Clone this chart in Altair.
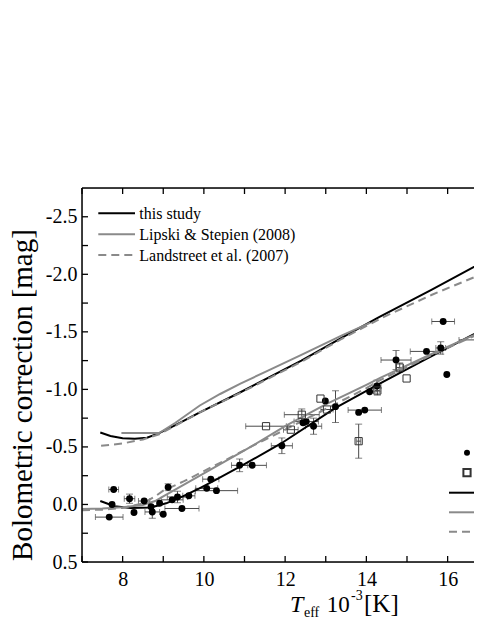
import altair as alt
import pandas as pd

# ---------------- data ----------------
# filled circles: Teff (10^3 K), BC (mag), x error, y error
dot_T    = [7.67, 7.78, 7.74, 8.17, 8.28, 8.53, 8.70, 8.73, 8.91, 9.00, 9.12, 9.22, 9.35, 9.46, 9.63,
            10.07, 10.17, 10.31, 10.88, 11.19, 11.92, 12.44, 12.52, 12.70, 12.99, 13.24, 13.81, 13.96,
            14.08, 14.26, 14.73, 15.48, 15.83, 15.98, 15.89, 16.78]
dot_BC   = [0.11, -0.13, 0.00, -0.05, 0.07, -0.03, 0.02, 0.065, -0.01, 0.085, -0.15, -0.04, -0.065, 0.035, -0.075,
            -0.14, -0.22, -0.12, -0.34, -0.34, -0.51, -0.71, -0.72, -0.68, -0.90, -0.85, -0.80, -0.82,
            -0.98, -1.03, -1.255, -1.33, -1.36, -1.13, -1.59, -1.43]
dot_xerr = [0.34, 0.12, 0.0, 0.13, 0.0, 0.14, 0.0, 0.18, 0.0, 0.0, 0.0, 0.27, 0.25, 0.42, 0.15,
            0.27, 0.2, 0.52, 0.2, 0.35, 0.26, 0.0, 0.3, 0.2, 0.0, 0.0, 0.0, 0.41,
            0.0, 0.1, 0.37, 0.4, 0.12, 0.0, 0.28, 0.5]
dot_yerr = [0.0, 0.0, 0.0, 0.04, 0.0, 0.0, 0.0, 0.055, 0.0, 0.0, 0.03, 0.0, 0.05, 0.0, 0.0,
            0.0, 0.0, 0.0, 0.055, 0.0, 0.068, 0.0, 0.0, 0.07, 0.0, 0.138, 0.0, 0.0,
            0.0, 0.05, 0.083, 0.0, 0.054, 0.0, 0.0, 0.0]

# open squares
sq_T    = [11.53, 12.14, 12.41, 12.87, 13.03, 13.81, 14.27, 14.82, 14.99]
sq_BC   = [-0.68, -0.65, -0.78, -0.92, -0.825, -0.55, -0.99, -1.19, -1.095]
sq_xerr = [0.5, 0.18, 0.43, 0.0, 0.15, 0.05, 0.06, 0.08, 0.0]
sq_yerr = [0.0, 0.0, 0.05, 0.0, 0.0, 0.148, 0.04, 0.04, 0.0]

# calibration curves (upper and lower branches)
this_up_T  = [7.45, 7.7, 8.0, 8.3, 8.6, 8.9, 9.3, 9.9, 10.9, 12.4, 13.4, 14.3, 15.6, 17.1, 17.3]
this_up_BC = [-0.625, -0.595, -0.575, -0.57, -0.58, -0.62, -0.69, -0.80, -0.975, -1.25, -1.45, -1.625, -1.865, -2.15, -2.185]
this_lo_T  = [7.45, 7.8, 8.2, 8.7, 9.07, 9.48, 9.89, 10.22, 10.9, 11.9, 13.24, 14.27, 15.5, 16.87, 17.3]
this_lo_BC = [-0.03, 0.015, 0.03, 0.027, -0.01, -0.07, -0.14, -0.2, -0.33, -0.53, -0.84, -1.04, -1.27, -1.52, -1.6]

lip_up_T  = [7.97, 8.9, 9.3, 9.9, 10.4, 10.9, 11.5, 12.4, 13.4, 14.1]
lip_up_BC = [-0.62, -0.62, -0.71, -0.86, -0.96, -1.05, -1.15, -1.30, -1.47, -1.58]
lip_lo_T  = [7.0, 7.5, 8.0, 8.5, 8.8, 9.0, 9.5, 10.0, 10.5, 11.15, 12.0, 13.0, 14.0, 14.34, 15.5, 16.5, 17.3]
lip_lo_BC = [0.04, 0.035, 0.025, 0.005, -0.03, -0.07, -0.17, -0.27, -0.37, -0.5, -0.68, -0.87, -1.04, -1.1, -1.29, -1.45, -1.565]

lan_up_T  = [7.47, 8.0, 8.5, 8.9, 9.3, 9.9, 10.9, 12.4, 13.0, 13.4, 14.4, 15.6, 17.1, 17.3]
lan_up_BC = [-0.51, -0.53, -0.565, -0.61, -0.685, -0.80, -0.97, -1.24, -1.36, -1.44, -1.625, -1.82, -2.04, -2.07]
lan_lo_T  = [7.0, 7.5, 8.0, 8.5, 8.8, 9.0, 9.5, 10.0, 10.5, 11.15, 12.0, 13.0, 14.0, 14.34, 15.5, 16.5, 17.3]
lan_lo_BC = [0.05, 0.045, 0.03, -0.01, -0.07, -0.12, -0.2, -0.29, -0.38, -0.5, -0.65, -0.83, -1.01, -1.08, -1.28, -1.44, -1.565]

# axis ticks (the picture is cut on the right of the x axis)
X_MIN = 7.0
W, H = 392, 374
X_MAX = X_MIN + W / 40.625
x_major = [8, 10, 12, 14, 16]
x_minor = [7, 9, 11, 13, 15]
y_major = [-2.5, -2.0, -1.5, -1.0, -0.5, 0.0, 0.5]
y_minor = [-2.25, -1.75, -1.25, -0.75, -0.25, 0.25]

legend_labels = ["this study", "Lipski & Stepien (2008)", "Landstreet et al. (2007)"]

# ---------------- tables ----------------
FONT = "Liberation Serif"

pts = pd.concat([
    pd.DataFrame({"T": dot_T, "BC": dot_BC, "xerr": dot_xerr, "yerr": dot_yerr, "kind": "dot"}),
    pd.DataFrame({"T": sq_T, "BC": sq_BC, "xerr": sq_xerr, "yerr": sq_yerr, "kind": "sq"}),
], ignore_index=True)
pts["xlo"] = pts["T"] - pts["xerr"]
pts["xhi"] = pts["T"] + pts["xerr"]
pts["ylo"] = pts["BC"] - pts["yerr"]
pts["yhi"] = pts["BC"] + pts["yerr"]

def curve(T, BC, part):
    return pd.DataFrame({"T": T, "BC": BC, "part": part})

this_df = pd.concat([curve(this_up_T, this_up_BC, "up"), curve(this_lo_T, this_lo_BC, "lo")])
lip_df = pd.concat([curve(lip_up_T, lip_up_BC, "up"), curve(lip_lo_T, lip_lo_BC, "lo")])
lan_df = pd.concat([curve(lan_up_T, lan_up_BC, "up"), curve(lan_lo_T, lan_lo_BC, "lo")])

xs = alt.Scale(domain=[X_MIN, X_MAX], nice=False, zero=False)
ys = alt.Scale(domain=[-2.75, 0.5], reverse=True, nice=False, zero=False)

x_axis = alt.Axis(values=x_major, ticks=False, domain=False, grid=False, title=None,
                  labelFont=FONT, labelFontSize=20, labelColor="black", labelPadding=7,
                  labelOverlap=False, labelFlush=False)
y_axis = alt.Axis(values=y_major, ticks=False, domain=False, grid=False, title=None,
                  labelFont=FONT, labelFontSize=20, labelColor="black", labelPadding=5,
                  labelOverlap=False, labelFlush=False,
                  labelExpr="datum.value < 0 ? '-' + format(-datum.value, '.1f') : format(datum.value, '.1f')")

def X(f):
    return alt.X(f, type="quantitative", scale=xs, axis=x_axis)

def Y(f):
    return alt.Y(f, type="quantitative", scale=ys, axis=y_axis)

ERR = "#4a4a4a"
base = alt.Chart(pts)

xerr_rule = base.transform_filter("datum.xerr > 0").mark_rule(color=ERR, strokeWidth=1, clip=True).encode(
    x=X("xlo"), x2="xhi", y=Y("BC"))
xerr_cap1 = base.transform_filter("datum.xerr > 0").mark_tick(color=ERR, thickness=1, size=6, orient="vertical", clip=True).encode(
    x=X("xlo"), y=Y("BC"))
xerr_cap2 = base.transform_filter("datum.xerr > 0").mark_tick(color=ERR, thickness=1, size=6, orient="vertical", clip=True).encode(
    x=X("xhi"), y=Y("BC"))
yerr_rule = base.transform_filter("datum.yerr > 0").mark_rule(color=ERR, strokeWidth=1, clip=True).encode(
    x=X("T"), y=Y("ylo"), y2="yhi")
yerr_cap1 = base.transform_filter("datum.yerr > 0").mark_tick(color=ERR, thickness=1, size=7, orient="horizontal", clip=True).encode(
    x=X("T"), y=Y("ylo"))
yerr_cap2 = base.transform_filter("datum.yerr > 0").mark_tick(color=ERR, thickness=1, size=7, orient="horizontal", clip=True).encode(
    x=X("T"), y=Y("yhi"))

this_line = alt.Chart(this_df).mark_line(color="black", strokeWidth=2, clip=True).encode(
    x=X("T"), y=Y("BC"), detail="part:N", order="T:Q")
lip_line = alt.Chart(lip_df).mark_line(color="#8a8a8a", strokeWidth=2, clip=True).encode(
    x=X("T"), y=Y("BC"), detail="part:N", order="T:Q")
lan_line = alt.Chart(lan_df).mark_line(color="#8a8a8a", strokeWidth=2, strokeDash=[8, 5], clip=True).encode(
    x=X("T"), y=Y("BC"), detail="part:N", order="T:Q")

dots = alt.Chart(pts).transform_filter("datum.kind == 'dot'").mark_point(
    shape="circle", filled=True, color="black", size=48, opacity=1, clip=True).encode(x=X("T"), y=Y("BC"))
squares = alt.Chart(pts).transform_filter("datum.kind == 'sq'").mark_point(
    shape="square", filled=False, color="#333333", size=52, strokeWidth=1, opacity=1, clip=True).encode(x=X("T"), y=Y("BC"))

# frame (left, top, bottom) and inward ticks
one = pd.DataFrame({"a": [0]})
FR = dict(color="black", strokeWidth=1.5)
frame = [
    alt.Chart(one).mark_rule(**FR).encode(x=alt.value(0), y=alt.value(0), y2=alt.value(H)),
    alt.Chart(one).mark_rule(**FR).encode(x=alt.value(0), x2=alt.value(W), y=alt.value(0)),
    alt.Chart(one).mark_rule(**FR).encode(x=alt.value(0), x2=alt.value(W), y=alt.value(H)),
]
xt = pd.DataFrame({"v": x_major + x_minor})
yt = pd.DataFrame({"v": y_major + y_minor})
TK = dict(color="black", strokeWidth=1.3)
bottom_ticks = alt.Chart(xt).mark_rule(**TK).encode(x=X("v"), y=alt.value(H), y2=alt.value(H - 6))
top_ticks = alt.Chart(xt).mark_rule(**TK).encode(x=X("v"), y=alt.value(0), y2=alt.value(6))
left_ticks = alt.Chart(yt).mark_rule(**TK).encode(y=Y("v"), x=alt.value(0), x2=alt.value(6))

# top-left legend
leg_y = [25.3, 46.3, 67.0]
leg_layers = []
for lab, yy, col, dash in zip(legend_labels, leg_y, ["black", "#8a8a8a", "#8a8a8a"], [None, None, [8, 5]]):
    kw = dict(color=col, strokeWidth=2)
    if dash:
        kw["strokeDash"] = dash
    leg_layers.append(alt.Chart(one).mark_rule(**kw).encode(
        x=alt.value(16.3), x2=alt.value(53), y=alt.value(yy)))
    leg_layers.append(alt.Chart(one).mark_text(
        text=lab, font=FONT, fontSize=16, color="black", align="left", baseline="middle").encode(
        x=alt.value(57.3), y=alt.value(yy + 1)))

# right-hand legend (only its symbols are inside the picture)
rl = []
rl.append(alt.Chart(one).mark_point(shape="circle", filled=True, color="black", size=36, opacity=1).encode(
    x=alt.value(385), y=alt.value(264.7)))
rl.append(alt.Chart(one).mark_point(shape="square", filled=False, color="#333333", size=52, opacity=1).encode(
    x=alt.value(385), y=alt.value(284.7)))
for yy, col, dash in zip([304.7, 324.3, 343.7], ["black", "#8a8a8a", "#8a8a8a"], [None, None, [8, 5]]):
    kw = dict(color=col, strokeWidth=2)
    if dash:
        kw["strokeDash"] = dash
    rl.append(alt.Chart(one).mark_rule(**kw).encode(x=alt.value(367), x2=alt.value(W), y=alt.value(yy)))

# axis titles
ytitle = alt.Chart(one).mark_text(text="Bolometric correction [mag]", font=FONT, fontSize=29, color="black",
                                  angle=270, align="center", baseline="alphabetic").encode(
    x=alt.value(-50.5), y=alt.value(207))
xt_parts = [
    ("T", 208, 424, 24, "italic"),
    ("eff", 222, 428.5, 14, "normal"),
    ("10", 244.7, 424, 23, "normal"),
    ("-3", 269, 412, 14, "normal"),
    ("[K]", 282, 424, 25, "normal"),
]
xtitle = [alt.Chart(one).mark_text(text=t, font=FONT, fontSize=fs, fontStyle=st, color="black",
                                   align="left", baseline="alphabetic").encode(x=alt.value(xx), y=alt.value(yy))
          for t, xx, yy, fs, st in xt_parts]

chart = alt.layer(
    xerr_rule, xerr_cap1, xerr_cap2, yerr_rule, yerr_cap1, yerr_cap2,
    this_line, lip_line, lan_line, dots, squares,
    *frame, bottom_ticks, top_ticks, left_ticks,
    *leg_layers, *rl, ytitle, *xtitle,
).properties(
    width=W, height=H,
    autosize=alt.AutoSizeParams(type="none"),
    padding={"left": 74, "top": 180, "right": 0, "bottom": 57},
).configure_view(stroke=None).configure(font=FONT)

chart.save("out.html", embed_options={"renderer": "svg", "actions": False})
